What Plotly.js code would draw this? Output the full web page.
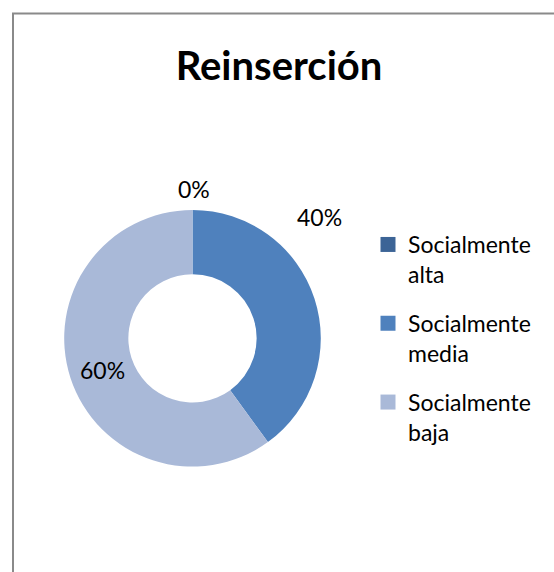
<!DOCTYPE html>
<html>
<head>
<meta charset="utf-8">
<script src="https://cdn.plot.ly/plotly-3.0.1.min.js"></script>
<style>
html,body{margin:0;padding:0;background:#fff;}
#chart{width:554px;height:572px;}
</style>
</head>
<body>
<div id="chart"></div>
<script>
const chartTitle = "Reinserción";
const categories = ["Socialmente alta", "Socialmente media", "Socialmente baja"];
const legendLabels = ["Socialmente<br>alta", "Socialmente<br>media", "Socialmente<br>baja"];
const values = [0, 40, 60];
const colors = ["#3C6496", "#4F81BD", "#A9B9D8"];

const W = 554, H = 572;
const cx = 192.5, cy = 338.3, R = 128.3;
const px = x => x / W;
const py = y => 1 - y / H;
const FONT = "Lato, 'Open Sans', sans-serif";

const total = values.reduce((a, b) => a + b, 0);
const pct = values.map(v => Math.round(100 * v / total) + "%");

// data-label placements (Excel-style)
const labelPos = [[194, 189], [319, 217], [102, 370]];
const annotations = pct.map((t, i) => ({
  x: px(labelPos[i][0]), y: py(labelPos[i][1]), xref: "paper", yref: "paper",
  text: t, showarrow: false, xanchor: "center", yanchor: "middle",
  font: {family: FONT, size: 23, color: "#000"}
}));

const pieTrace = {
  type: "pie",
  labels: categories,
  values: values,
  hole: 0.5,
  sort: false,
  direction: "clockwise",
  rotation: 0,
  textinfo: "none",
  showlegend: false,
  marker: {colors: colors, line: {width: 0}},
  domain: {x: [px(cx - R), px(cx + R)], y: [py(cy + R), py(cy - R)]},
  hoverinfo: "label+percent"
};

// legend entries (one per category) so spacing between entries can be set
const legendTraces = categories.map((c, i) => ({
  type: "scatter", mode: "markers",
  x: [0], y: [0],
  name: legendLabels[i],
  legendgroup: "g" + i,
  marker: {symbol: "square", size: 15, color: colors[i]},
  showlegend: true, hoverinfo: "skip"
}));

const layout = {
  width: W, height: H,
  margin: {l: 0, r: 0, t: 0, b: 0},
  paper_bgcolor: "#fff",
  plot_bgcolor: "rgba(0,0,0,0)",
  xaxis: {visible: false, range: [1, 2], fixedrange: true},
  yaxis: {visible: false, range: [1, 2], fixedrange: true},
  showlegend: true,
  title: {
    text: "<b>" + chartTitle + "</b>",
    x: px(279), y: py(66), xanchor: "center", yanchor: "middle",
    font: {family: FONT, size: 40, color: "#000"}
  },
  legend: {
    x: px(368), y: py(223), xanchor: "left", yanchor: "top",
    font: {family: FONT, size: 23, color: "#000"},
    valign: "top", itemsizing: "trace", tracegroupgap: 16,
    bgcolor: "rgba(0,0,0,0)"
  },
  annotations: annotations,
  shapes: [{
    type: "rect", xref: "paper", yref: "paper",
    x0: px(13), x1: 1.2, y0: -0.2, y1: py(13.5),
    line: {color: "#8a8a8a", width: 2}
  }]
};

Plotly.newPlot("chart", [pieTrace].concat(legendTraces), layout, {displayModeBar: false, staticPlot: true});
</script>
</body>
</html>
